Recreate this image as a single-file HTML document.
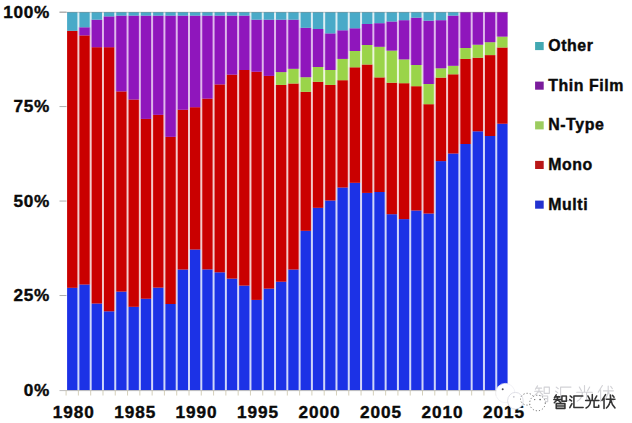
<!DOCTYPE html>
<html><head><meta charset="utf-8"><title>chart</title>
<style>
html,body{margin:0;padding:0;background:#fff;}
body{width:632px;height:423px;overflow:hidden;position:relative;font-family:"Liberation Sans",sans-serif;}
svg{position:absolute;left:0;top:0;display:block}
.ax{font-family:"Liberation Sans",sans-serif;font-weight:700;font-size:17.2px;letter-spacing:0.7px;fill:#0a0a0a;stroke:#0a0a0a;stroke-width:0.4px}
.lg{font-family:"Liberation Sans",sans-serif;font-weight:700;font-size:15.9px;letter-spacing:0.58px;fill:#0a0a0a;stroke:#0a0a0a;stroke-width:0.4px}
</style></head><body>
<svg width="632" height="423" viewBox="0 0 632 423">
<rect width="632" height="423" fill="#ffffff"/>
<defs><filter id="bl" x="-2%" y="-2%" width="104%" height="104%"><feGaussianBlur stdDeviation="0.45"/></filter><filter id="bl2" x="-20%" y="-20%" width="140%" height="140%"><feGaussianBlur stdDeviation="0.35"/></filter></defs>
<g id="bars" filter="url(#bl)">
<rect x="67.10" y="287.80" width="11.29" height="102.50" fill="#1c33e6" opacity="0.20"/><rect x="67.10" y="30.80" width="11.29" height="257.00" fill="#ca0404" opacity="0.22"/><rect x="67.10" y="12.10" width="11.29" height="18.70" fill="#4aaac8" opacity="0.20"/><rect x="78.39" y="284.50" width="12.29" height="105.80" fill="#1c33e6" opacity="0.20"/><rect x="78.39" y="35.40" width="12.29" height="249.10" fill="#ca0404" opacity="0.22"/><rect x="78.39" y="27.30" width="12.29" height="8.10" fill="#8f14bc" opacity="0.30"/><rect x="78.39" y="12.10" width="12.29" height="15.20" fill="#4aaac8" opacity="0.20"/><rect x="90.68" y="303.50" width="12.29" height="86.80" fill="#1c33e6" opacity="0.20"/><rect x="90.68" y="47.20" width="12.29" height="256.30" fill="#ca0404" opacity="0.22"/><rect x="90.68" y="19.70" width="12.29" height="27.50" fill="#8f14bc" opacity="0.30"/><rect x="90.68" y="12.10" width="12.29" height="7.60" fill="#4aaac8" opacity="0.20"/><rect x="102.97" y="311.30" width="12.29" height="79.00" fill="#1c33e6" opacity="0.20"/><rect x="102.97" y="47.20" width="12.29" height="264.10" fill="#ca0404" opacity="0.22"/><rect x="102.97" y="16.40" width="12.29" height="30.80" fill="#8f14bc" opacity="0.30"/><rect x="102.97" y="12.10" width="12.29" height="4.30" fill="#4aaac8" opacity="0.20"/><rect x="115.26" y="291.60" width="12.29" height="98.70" fill="#1c33e6" opacity="0.20"/><rect x="115.26" y="91.40" width="12.29" height="200.20" fill="#ca0404" opacity="0.22"/><rect x="115.26" y="15.60" width="12.29" height="75.80" fill="#8f14bc" opacity="0.30"/><rect x="115.26" y="12.10" width="12.29" height="3.50" fill="#4aaac8" opacity="0.20"/><rect x="127.55" y="306.80" width="12.29" height="83.50" fill="#1c33e6" opacity="0.20"/><rect x="127.55" y="99.50" width="12.29" height="207.30" fill="#ca0404" opacity="0.22"/><rect x="127.55" y="15.60" width="12.29" height="83.90" fill="#8f14bc" opacity="0.30"/><rect x="127.55" y="12.10" width="12.29" height="3.50" fill="#4aaac8" opacity="0.20"/><rect x="139.84" y="298.70" width="12.29" height="91.60" fill="#1c33e6" opacity="0.20"/><rect x="139.84" y="118.90" width="12.29" height="179.80" fill="#ca0404" opacity="0.22"/><rect x="139.84" y="15.60" width="12.29" height="103.30" fill="#8f14bc" opacity="0.30"/><rect x="139.84" y="12.10" width="12.29" height="3.50" fill="#4aaac8" opacity="0.20"/><rect x="152.13" y="287.60" width="12.29" height="102.70" fill="#1c33e6" opacity="0.20"/><rect x="152.13" y="114.80" width="12.29" height="172.80" fill="#ca0404" opacity="0.22"/><rect x="152.13" y="15.60" width="12.29" height="99.20" fill="#8f14bc" opacity="0.30"/><rect x="152.13" y="12.10" width="12.29" height="3.50" fill="#4aaac8" opacity="0.20"/><rect x="164.42" y="304.00" width="12.29" height="86.30" fill="#1c33e6" opacity="0.20"/><rect x="164.42" y="136.80" width="12.29" height="167.20" fill="#ca0404" opacity="0.22"/><rect x="164.42" y="15.60" width="12.29" height="121.20" fill="#8f14bc" opacity="0.30"/><rect x="164.42" y="12.10" width="12.29" height="3.50" fill="#4aaac8" opacity="0.20"/><rect x="176.71" y="269.50" width="12.29" height="120.80" fill="#1c33e6" opacity="0.20"/><rect x="176.71" y="109.70" width="12.29" height="159.80" fill="#ca0404" opacity="0.22"/><rect x="176.71" y="15.60" width="12.29" height="94.10" fill="#8f14bc" opacity="0.30"/><rect x="176.71" y="12.10" width="12.29" height="3.50" fill="#4aaac8" opacity="0.20"/><rect x="189.00" y="249.50" width="12.29" height="140.80" fill="#1c33e6" opacity="0.20"/><rect x="189.00" y="107.20" width="12.29" height="142.30" fill="#ca0404" opacity="0.22"/><rect x="189.00" y="15.60" width="12.29" height="91.60" fill="#8f14bc" opacity="0.30"/><rect x="189.00" y="12.10" width="12.29" height="3.50" fill="#4aaac8" opacity="0.20"/><rect x="201.29" y="269.40" width="12.29" height="120.90" fill="#1c33e6" opacity="0.20"/><rect x="201.29" y="98.60" width="12.29" height="170.80" fill="#ca0404" opacity="0.22"/><rect x="201.29" y="15.60" width="12.29" height="83.00" fill="#8f14bc" opacity="0.30"/><rect x="201.29" y="12.10" width="12.29" height="3.50" fill="#4aaac8" opacity="0.20"/><rect x="213.58" y="272.30" width="12.29" height="118.00" fill="#1c33e6" opacity="0.20"/><rect x="213.58" y="84.40" width="12.29" height="187.90" fill="#ca0404" opacity="0.22"/><rect x="213.58" y="15.60" width="12.29" height="68.80" fill="#8f14bc" opacity="0.30"/><rect x="213.58" y="12.10" width="12.29" height="3.50" fill="#4aaac8" opacity="0.20"/><rect x="225.87" y="278.60" width="12.29" height="111.70" fill="#1c33e6" opacity="0.20"/><rect x="225.87" y="74.60" width="12.29" height="204.00" fill="#ca0404" opacity="0.22"/><rect x="225.87" y="15.60" width="12.29" height="59.00" fill="#8f14bc" opacity="0.30"/><rect x="225.87" y="12.10" width="12.29" height="3.50" fill="#4aaac8" opacity="0.20"/><rect x="238.16" y="285.60" width="12.29" height="104.70" fill="#1c33e6" opacity="0.20"/><rect x="238.16" y="70.00" width="12.29" height="215.60" fill="#ca0404" opacity="0.22"/><rect x="238.16" y="15.60" width="12.29" height="54.40" fill="#8f14bc" opacity="0.30"/><rect x="238.16" y="12.10" width="12.29" height="3.50" fill="#4aaac8" opacity="0.20"/><rect x="250.45" y="299.90" width="12.29" height="90.40" fill="#1c33e6" opacity="0.20"/><rect x="250.45" y="71.70" width="12.29" height="228.20" fill="#ca0404" opacity="0.22"/><rect x="250.45" y="19.70" width="12.29" height="52.00" fill="#8f14bc" opacity="0.30"/><rect x="250.45" y="12.10" width="12.29" height="7.60" fill="#4aaac8" opacity="0.20"/><rect x="262.74" y="288.60" width="12.29" height="101.70" fill="#1c33e6" opacity="0.20"/><rect x="262.74" y="75.90" width="12.29" height="212.70" fill="#ca0404" opacity="0.22"/><rect x="262.74" y="19.70" width="12.29" height="56.20" fill="#8f14bc" opacity="0.30"/><rect x="262.74" y="12.10" width="12.29" height="7.60" fill="#4aaac8" opacity="0.20"/><rect x="275.03" y="281.70" width="12.29" height="108.60" fill="#1c33e6" opacity="0.20"/><rect x="275.03" y="84.90" width="12.29" height="196.80" fill="#ca0404" opacity="0.22"/><rect x="275.03" y="72.10" width="12.29" height="12.80" fill="#9ad448" opacity="0.20"/><rect x="275.03" y="19.70" width="12.29" height="52.40" fill="#8f14bc" opacity="0.30"/><rect x="275.03" y="12.10" width="12.29" height="7.60" fill="#4aaac8" opacity="0.20"/><rect x="287.32" y="269.50" width="12.29" height="120.80" fill="#1c33e6" opacity="0.20"/><rect x="287.32" y="83.50" width="12.29" height="186.00" fill="#ca0404" opacity="0.22"/><rect x="287.32" y="68.80" width="12.29" height="14.70" fill="#9ad448" opacity="0.20"/><rect x="287.32" y="19.70" width="12.29" height="49.10" fill="#8f14bc" opacity="0.30"/><rect x="287.32" y="12.10" width="12.29" height="7.60" fill="#4aaac8" opacity="0.20"/><rect x="299.61" y="230.80" width="12.29" height="159.50" fill="#1c33e6" opacity="0.20"/><rect x="299.61" y="91.80" width="12.29" height="139.00" fill="#ca0404" opacity="0.22"/><rect x="299.61" y="77.20" width="12.29" height="14.60" fill="#9ad448" opacity="0.20"/><rect x="299.61" y="27.80" width="12.29" height="49.40" fill="#8f14bc" opacity="0.30"/><rect x="299.61" y="12.10" width="12.29" height="15.70" fill="#4aaac8" opacity="0.20"/><rect x="311.90" y="207.80" width="12.29" height="182.50" fill="#1c33e6" opacity="0.20"/><rect x="311.90" y="81.80" width="12.29" height="126.00" fill="#ca0404" opacity="0.22"/><rect x="311.90" y="67.00" width="12.29" height="14.80" fill="#9ad448" opacity="0.20"/><rect x="311.90" y="29.00" width="12.29" height="38.00" fill="#8f14bc" opacity="0.30"/><rect x="311.90" y="12.10" width="12.29" height="16.90" fill="#4aaac8" opacity="0.20"/><rect x="324.19" y="200.50" width="12.29" height="189.80" fill="#1c33e6" opacity="0.20"/><rect x="324.19" y="84.90" width="12.29" height="115.60" fill="#ca0404" opacity="0.22"/><rect x="324.19" y="70.00" width="12.29" height="14.90" fill="#9ad448" opacity="0.20"/><rect x="324.19" y="33.40" width="12.29" height="36.60" fill="#8f14bc" opacity="0.30"/><rect x="324.19" y="12.10" width="12.29" height="21.30" fill="#4aaac8" opacity="0.20"/><rect x="336.48" y="187.50" width="12.29" height="202.80" fill="#1c33e6" opacity="0.20"/><rect x="336.48" y="80.20" width="12.29" height="107.30" fill="#ca0404" opacity="0.22"/><rect x="336.48" y="58.90" width="12.29" height="21.30" fill="#9ad448" opacity="0.20"/><rect x="336.48" y="30.30" width="12.29" height="28.60" fill="#8f14bc" opacity="0.30"/><rect x="336.48" y="12.10" width="12.29" height="18.20" fill="#4aaac8" opacity="0.20"/><rect x="348.77" y="182.80" width="12.29" height="207.50" fill="#1c33e6" opacity="0.20"/><rect x="348.77" y="67.30" width="12.29" height="115.50" fill="#ca0404" opacity="0.22"/><rect x="348.77" y="51.00" width="12.29" height="16.30" fill="#9ad448" opacity="0.20"/><rect x="348.77" y="28.30" width="12.29" height="22.70" fill="#8f14bc" opacity="0.30"/><rect x="348.77" y="12.10" width="12.29" height="16.20" fill="#4aaac8" opacity="0.20"/><rect x="361.06" y="192.90" width="12.29" height="197.40" fill="#1c33e6" opacity="0.20"/><rect x="361.06" y="64.50" width="12.29" height="128.40" fill="#ca0404" opacity="0.22"/><rect x="361.06" y="45.00" width="12.29" height="19.50" fill="#9ad448" opacity="0.20"/><rect x="361.06" y="24.00" width="12.29" height="21.00" fill="#8f14bc" opacity="0.30"/><rect x="361.06" y="12.10" width="12.29" height="11.90" fill="#4aaac8" opacity="0.20"/><rect x="373.35" y="192.00" width="12.29" height="198.30" fill="#1c33e6" opacity="0.20"/><rect x="373.35" y="77.40" width="12.29" height="114.60" fill="#ca0404" opacity="0.22"/><rect x="373.35" y="46.80" width="12.29" height="30.60" fill="#9ad448" opacity="0.20"/><rect x="373.35" y="23.20" width="12.29" height="23.60" fill="#8f14bc" opacity="0.30"/><rect x="373.35" y="12.10" width="12.29" height="11.10" fill="#4aaac8" opacity="0.20"/><rect x="385.64" y="214.20" width="12.29" height="176.10" fill="#1c33e6" opacity="0.20"/><rect x="385.64" y="82.70" width="12.29" height="131.50" fill="#ca0404" opacity="0.22"/><rect x="385.64" y="50.60" width="12.29" height="32.10" fill="#9ad448" opacity="0.20"/><rect x="385.64" y="21.50" width="12.29" height="29.10" fill="#8f14bc" opacity="0.30"/><rect x="385.64" y="12.10" width="12.29" height="9.40" fill="#4aaac8" opacity="0.20"/><rect x="397.93" y="219.10" width="12.29" height="171.20" fill="#1c33e6" opacity="0.20"/><rect x="397.93" y="83.20" width="12.29" height="135.90" fill="#ca0404" opacity="0.22"/><rect x="397.93" y="59.40" width="12.29" height="23.80" fill="#9ad448" opacity="0.20"/><rect x="397.93" y="20.20" width="12.29" height="39.20" fill="#8f14bc" opacity="0.30"/><rect x="397.93" y="12.10" width="12.29" height="8.10" fill="#4aaac8" opacity="0.20"/><rect x="410.22" y="210.50" width="12.29" height="179.80" fill="#1c33e6" opacity="0.20"/><rect x="410.22" y="86.20" width="12.29" height="124.30" fill="#ca0404" opacity="0.22"/><rect x="410.22" y="65.00" width="12.29" height="21.20" fill="#9ad448" opacity="0.20"/><rect x="410.22" y="17.70" width="12.29" height="47.30" fill="#8f14bc" opacity="0.30"/><rect x="410.22" y="12.10" width="12.29" height="5.60" fill="#4aaac8" opacity="0.20"/><rect x="422.51" y="213.50" width="12.29" height="176.80" fill="#1c33e6" opacity="0.20"/><rect x="422.51" y="104.20" width="12.29" height="109.30" fill="#ca0404" opacity="0.22"/><rect x="422.51" y="84.00" width="12.29" height="20.20" fill="#9ad448" opacity="0.20"/><rect x="422.51" y="20.70" width="12.29" height="63.30" fill="#8f14bc" opacity="0.30"/><rect x="422.51" y="12.10" width="12.29" height="8.60" fill="#4aaac8" opacity="0.20"/><rect x="434.80" y="161.10" width="12.29" height="229.20" fill="#1c33e6" opacity="0.20"/><rect x="434.80" y="77.60" width="12.29" height="83.50" fill="#ca0404" opacity="0.22"/><rect x="434.80" y="68.30" width="12.29" height="9.30" fill="#9ad448" opacity="0.20"/><rect x="434.80" y="20.20" width="12.29" height="48.10" fill="#8f14bc" opacity="0.30"/><rect x="434.80" y="12.10" width="12.29" height="8.10" fill="#4aaac8" opacity="0.20"/><rect x="447.09" y="153.50" width="12.29" height="236.80" fill="#1c33e6" opacity="0.20"/><rect x="447.09" y="74.30" width="12.29" height="79.20" fill="#ca0404" opacity="0.22"/><rect x="447.09" y="65.80" width="12.29" height="8.50" fill="#9ad448" opacity="0.20"/><rect x="447.09" y="15.60" width="12.29" height="50.20" fill="#8f14bc" opacity="0.30"/><rect x="447.09" y="12.10" width="12.29" height="3.50" fill="#4aaac8" opacity="0.20"/><rect x="459.38" y="144.00" width="12.29" height="246.30" fill="#1c33e6" opacity="0.20"/><rect x="459.38" y="58.90" width="12.29" height="85.10" fill="#ca0404" opacity="0.22"/><rect x="459.38" y="48.00" width="12.29" height="10.90" fill="#9ad448" opacity="0.20"/><rect x="459.38" y="12.10" width="12.29" height="35.90" fill="#8f14bc" opacity="0.30"/><rect x="471.67" y="131.30" width="12.29" height="259.00" fill="#1c33e6" opacity="0.20"/><rect x="471.67" y="57.70" width="12.29" height="73.60" fill="#ca0404" opacity="0.22"/><rect x="471.67" y="44.70" width="12.29" height="13.00" fill="#9ad448" opacity="0.20"/><rect x="471.67" y="12.10" width="12.29" height="32.60" fill="#8f14bc" opacity="0.30"/><rect x="483.96" y="136.00" width="12.29" height="254.30" fill="#1c33e6" opacity="0.20"/><rect x="483.96" y="55.10" width="12.29" height="80.90" fill="#ca0404" opacity="0.22"/><rect x="483.96" y="42.20" width="12.29" height="12.90" fill="#9ad448" opacity="0.20"/><rect x="483.96" y="12.10" width="12.29" height="30.10" fill="#8f14bc" opacity="0.30"/><rect x="496.25" y="123.70" width="11.29" height="266.60" fill="#1c33e6" opacity="0.20"/><rect x="496.25" y="47.50" width="11.29" height="76.20" fill="#ca0404" opacity="0.22"/><rect x="496.25" y="36.60" width="11.29" height="10.90" fill="#9ad448" opacity="0.20"/><rect x="496.25" y="12.10" width="11.29" height="24.50" fill="#8f14bc" opacity="0.30"/><rect x="67.10" y="287.80" width="10.29" height="102.50" fill="#1c33e6"/><rect x="67.10" y="30.80" width="10.29" height="257.00" fill="#ca0404"/><rect x="67.10" y="12.10" width="10.29" height="18.70" fill="#4aaac8"/><rect x="79.39" y="284.50" width="10.29" height="105.80" fill="#1c33e6"/><rect x="79.39" y="35.40" width="10.29" height="249.10" fill="#ca0404"/><rect x="79.39" y="27.30" width="10.29" height="8.10" fill="#8f14bc"/><rect x="79.39" y="12.10" width="10.29" height="15.20" fill="#4aaac8"/><rect x="91.68" y="303.50" width="10.29" height="86.80" fill="#1c33e6"/><rect x="91.68" y="47.20" width="10.29" height="256.30" fill="#ca0404"/><rect x="91.68" y="19.70" width="10.29" height="27.50" fill="#8f14bc"/><rect x="91.68" y="12.10" width="10.29" height="7.60" fill="#4aaac8"/><rect x="103.97" y="311.30" width="10.29" height="79.00" fill="#1c33e6"/><rect x="103.97" y="47.20" width="10.29" height="264.10" fill="#ca0404"/><rect x="103.97" y="16.40" width="10.29" height="30.80" fill="#8f14bc"/><rect x="103.97" y="12.10" width="10.29" height="4.30" fill="#4aaac8"/><rect x="116.26" y="291.60" width="10.29" height="98.70" fill="#1c33e6"/><rect x="116.26" y="91.40" width="10.29" height="200.20" fill="#ca0404"/><rect x="116.26" y="15.60" width="10.29" height="75.80" fill="#8f14bc"/><rect x="116.26" y="12.10" width="10.29" height="3.50" fill="#4aaac8"/><rect x="128.55" y="306.80" width="10.29" height="83.50" fill="#1c33e6"/><rect x="128.55" y="99.50" width="10.29" height="207.30" fill="#ca0404"/><rect x="128.55" y="15.60" width="10.29" height="83.90" fill="#8f14bc"/><rect x="128.55" y="12.10" width="10.29" height="3.50" fill="#4aaac8"/><rect x="140.84" y="298.70" width="10.29" height="91.60" fill="#1c33e6"/><rect x="140.84" y="118.90" width="10.29" height="179.80" fill="#ca0404"/><rect x="140.84" y="15.60" width="10.29" height="103.30" fill="#8f14bc"/><rect x="140.84" y="12.10" width="10.29" height="3.50" fill="#4aaac8"/><rect x="153.13" y="287.60" width="10.29" height="102.70" fill="#1c33e6"/><rect x="153.13" y="114.80" width="10.29" height="172.80" fill="#ca0404"/><rect x="153.13" y="15.60" width="10.29" height="99.20" fill="#8f14bc"/><rect x="153.13" y="12.10" width="10.29" height="3.50" fill="#4aaac8"/><rect x="165.42" y="304.00" width="10.29" height="86.30" fill="#1c33e6"/><rect x="165.42" y="136.80" width="10.29" height="167.20" fill="#ca0404"/><rect x="165.42" y="15.60" width="10.29" height="121.20" fill="#8f14bc"/><rect x="165.42" y="12.10" width="10.29" height="3.50" fill="#4aaac8"/><rect x="177.71" y="269.50" width="10.29" height="120.80" fill="#1c33e6"/><rect x="177.71" y="109.70" width="10.29" height="159.80" fill="#ca0404"/><rect x="177.71" y="15.60" width="10.29" height="94.10" fill="#8f14bc"/><rect x="177.71" y="12.10" width="10.29" height="3.50" fill="#4aaac8"/><rect x="190.00" y="249.50" width="10.29" height="140.80" fill="#1c33e6"/><rect x="190.00" y="107.20" width="10.29" height="142.30" fill="#ca0404"/><rect x="190.00" y="15.60" width="10.29" height="91.60" fill="#8f14bc"/><rect x="190.00" y="12.10" width="10.29" height="3.50" fill="#4aaac8"/><rect x="202.29" y="269.40" width="10.29" height="120.90" fill="#1c33e6"/><rect x="202.29" y="98.60" width="10.29" height="170.80" fill="#ca0404"/><rect x="202.29" y="15.60" width="10.29" height="83.00" fill="#8f14bc"/><rect x="202.29" y="12.10" width="10.29" height="3.50" fill="#4aaac8"/><rect x="214.58" y="272.30" width="10.29" height="118.00" fill="#1c33e6"/><rect x="214.58" y="84.40" width="10.29" height="187.90" fill="#ca0404"/><rect x="214.58" y="15.60" width="10.29" height="68.80" fill="#8f14bc"/><rect x="214.58" y="12.10" width="10.29" height="3.50" fill="#4aaac8"/><rect x="226.87" y="278.60" width="10.29" height="111.70" fill="#1c33e6"/><rect x="226.87" y="74.60" width="10.29" height="204.00" fill="#ca0404"/><rect x="226.87" y="15.60" width="10.29" height="59.00" fill="#8f14bc"/><rect x="226.87" y="12.10" width="10.29" height="3.50" fill="#4aaac8"/><rect x="239.16" y="285.60" width="10.29" height="104.70" fill="#1c33e6"/><rect x="239.16" y="70.00" width="10.29" height="215.60" fill="#ca0404"/><rect x="239.16" y="15.60" width="10.29" height="54.40" fill="#8f14bc"/><rect x="239.16" y="12.10" width="10.29" height="3.50" fill="#4aaac8"/><rect x="251.45" y="299.90" width="10.29" height="90.40" fill="#1c33e6"/><rect x="251.45" y="71.70" width="10.29" height="228.20" fill="#ca0404"/><rect x="251.45" y="19.70" width="10.29" height="52.00" fill="#8f14bc"/><rect x="251.45" y="12.10" width="10.29" height="7.60" fill="#4aaac8"/><rect x="263.74" y="288.60" width="10.29" height="101.70" fill="#1c33e6"/><rect x="263.74" y="75.90" width="10.29" height="212.70" fill="#ca0404"/><rect x="263.74" y="19.70" width="10.29" height="56.20" fill="#8f14bc"/><rect x="263.74" y="12.10" width="10.29" height="7.60" fill="#4aaac8"/><rect x="276.03" y="281.70" width="10.29" height="108.60" fill="#1c33e6"/><rect x="276.03" y="84.90" width="10.29" height="196.80" fill="#ca0404"/><rect x="276.03" y="72.10" width="10.29" height="12.80" fill="#9ad448"/><rect x="276.03" y="19.70" width="10.29" height="52.40" fill="#8f14bc"/><rect x="276.03" y="12.10" width="10.29" height="7.60" fill="#4aaac8"/><rect x="288.32" y="269.50" width="10.29" height="120.80" fill="#1c33e6"/><rect x="288.32" y="83.50" width="10.29" height="186.00" fill="#ca0404"/><rect x="288.32" y="68.80" width="10.29" height="14.70" fill="#9ad448"/><rect x="288.32" y="19.70" width="10.29" height="49.10" fill="#8f14bc"/><rect x="288.32" y="12.10" width="10.29" height="7.60" fill="#4aaac8"/><rect x="300.61" y="230.80" width="10.29" height="159.50" fill="#1c33e6"/><rect x="300.61" y="91.80" width="10.29" height="139.00" fill="#ca0404"/><rect x="300.61" y="77.20" width="10.29" height="14.60" fill="#9ad448"/><rect x="300.61" y="27.80" width="10.29" height="49.40" fill="#8f14bc"/><rect x="300.61" y="12.10" width="10.29" height="15.70" fill="#4aaac8"/><rect x="312.90" y="207.80" width="10.29" height="182.50" fill="#1c33e6"/><rect x="312.90" y="81.80" width="10.29" height="126.00" fill="#ca0404"/><rect x="312.90" y="67.00" width="10.29" height="14.80" fill="#9ad448"/><rect x="312.90" y="29.00" width="10.29" height="38.00" fill="#8f14bc"/><rect x="312.90" y="12.10" width="10.29" height="16.90" fill="#4aaac8"/><rect x="325.19" y="200.50" width="10.29" height="189.80" fill="#1c33e6"/><rect x="325.19" y="84.90" width="10.29" height="115.60" fill="#ca0404"/><rect x="325.19" y="70.00" width="10.29" height="14.90" fill="#9ad448"/><rect x="325.19" y="33.40" width="10.29" height="36.60" fill="#8f14bc"/><rect x="325.19" y="12.10" width="10.29" height="21.30" fill="#4aaac8"/><rect x="337.48" y="187.50" width="10.29" height="202.80" fill="#1c33e6"/><rect x="337.48" y="80.20" width="10.29" height="107.30" fill="#ca0404"/><rect x="337.48" y="58.90" width="10.29" height="21.30" fill="#9ad448"/><rect x="337.48" y="30.30" width="10.29" height="28.60" fill="#8f14bc"/><rect x="337.48" y="12.10" width="10.29" height="18.20" fill="#4aaac8"/><rect x="349.77" y="182.80" width="10.29" height="207.50" fill="#1c33e6"/><rect x="349.77" y="67.30" width="10.29" height="115.50" fill="#ca0404"/><rect x="349.77" y="51.00" width="10.29" height="16.30" fill="#9ad448"/><rect x="349.77" y="28.30" width="10.29" height="22.70" fill="#8f14bc"/><rect x="349.77" y="12.10" width="10.29" height="16.20" fill="#4aaac8"/><rect x="362.06" y="192.90" width="10.29" height="197.40" fill="#1c33e6"/><rect x="362.06" y="64.50" width="10.29" height="128.40" fill="#ca0404"/><rect x="362.06" y="45.00" width="10.29" height="19.50" fill="#9ad448"/><rect x="362.06" y="24.00" width="10.29" height="21.00" fill="#8f14bc"/><rect x="362.06" y="12.10" width="10.29" height="11.90" fill="#4aaac8"/><rect x="374.35" y="192.00" width="10.29" height="198.30" fill="#1c33e6"/><rect x="374.35" y="77.40" width="10.29" height="114.60" fill="#ca0404"/><rect x="374.35" y="46.80" width="10.29" height="30.60" fill="#9ad448"/><rect x="374.35" y="23.20" width="10.29" height="23.60" fill="#8f14bc"/><rect x="374.35" y="12.10" width="10.29" height="11.10" fill="#4aaac8"/><rect x="386.64" y="214.20" width="10.29" height="176.10" fill="#1c33e6"/><rect x="386.64" y="82.70" width="10.29" height="131.50" fill="#ca0404"/><rect x="386.64" y="50.60" width="10.29" height="32.10" fill="#9ad448"/><rect x="386.64" y="21.50" width="10.29" height="29.10" fill="#8f14bc"/><rect x="386.64" y="12.10" width="10.29" height="9.40" fill="#4aaac8"/><rect x="398.93" y="219.10" width="10.29" height="171.20" fill="#1c33e6"/><rect x="398.93" y="83.20" width="10.29" height="135.90" fill="#ca0404"/><rect x="398.93" y="59.40" width="10.29" height="23.80" fill="#9ad448"/><rect x="398.93" y="20.20" width="10.29" height="39.20" fill="#8f14bc"/><rect x="398.93" y="12.10" width="10.29" height="8.10" fill="#4aaac8"/><rect x="411.22" y="210.50" width="10.29" height="179.80" fill="#1c33e6"/><rect x="411.22" y="86.20" width="10.29" height="124.30" fill="#ca0404"/><rect x="411.22" y="65.00" width="10.29" height="21.20" fill="#9ad448"/><rect x="411.22" y="17.70" width="10.29" height="47.30" fill="#8f14bc"/><rect x="411.22" y="12.10" width="10.29" height="5.60" fill="#4aaac8"/><rect x="423.51" y="213.50" width="10.29" height="176.80" fill="#1c33e6"/><rect x="423.51" y="104.20" width="10.29" height="109.30" fill="#ca0404"/><rect x="423.51" y="84.00" width="10.29" height="20.20" fill="#9ad448"/><rect x="423.51" y="20.70" width="10.29" height="63.30" fill="#8f14bc"/><rect x="423.51" y="12.10" width="10.29" height="8.60" fill="#4aaac8"/><rect x="435.80" y="161.10" width="10.29" height="229.20" fill="#1c33e6"/><rect x="435.80" y="77.60" width="10.29" height="83.50" fill="#ca0404"/><rect x="435.80" y="68.30" width="10.29" height="9.30" fill="#9ad448"/><rect x="435.80" y="20.20" width="10.29" height="48.10" fill="#8f14bc"/><rect x="435.80" y="12.10" width="10.29" height="8.10" fill="#4aaac8"/><rect x="448.09" y="153.50" width="10.29" height="236.80" fill="#1c33e6"/><rect x="448.09" y="74.30" width="10.29" height="79.20" fill="#ca0404"/><rect x="448.09" y="65.80" width="10.29" height="8.50" fill="#9ad448"/><rect x="448.09" y="15.60" width="10.29" height="50.20" fill="#8f14bc"/><rect x="448.09" y="12.10" width="10.29" height="3.50" fill="#4aaac8"/><rect x="460.38" y="144.00" width="10.29" height="246.30" fill="#1c33e6"/><rect x="460.38" y="58.90" width="10.29" height="85.10" fill="#ca0404"/><rect x="460.38" y="48.00" width="10.29" height="10.90" fill="#9ad448"/><rect x="460.38" y="12.10" width="10.29" height="35.90" fill="#8f14bc"/><rect x="472.67" y="131.30" width="10.29" height="259.00" fill="#1c33e6"/><rect x="472.67" y="57.70" width="10.29" height="73.60" fill="#ca0404"/><rect x="472.67" y="44.70" width="10.29" height="13.00" fill="#9ad448"/><rect x="472.67" y="12.10" width="10.29" height="32.60" fill="#8f14bc"/><rect x="484.96" y="136.00" width="10.29" height="254.30" fill="#1c33e6"/><rect x="484.96" y="55.10" width="10.29" height="80.90" fill="#ca0404"/><rect x="484.96" y="42.20" width="10.29" height="12.90" fill="#9ad448"/><rect x="484.96" y="12.10" width="10.29" height="30.10" fill="#8f14bc"/><rect x="497.25" y="123.70" width="10.29" height="266.60" fill="#1c33e6"/><rect x="497.25" y="47.50" width="10.29" height="76.20" fill="#ca0404"/><rect x="497.25" y="36.60" width="10.29" height="10.90" fill="#9ad448"/><rect x="497.25" y="12.10" width="10.29" height="24.50" fill="#8f14bc"/>
</g>
<g id="axis">
<line x1="59.5" y1="390.6" x2="508.5" y2="390.6" stroke="#bdbdbd" stroke-width="1"/><line x1="66.10" y1="390.3" x2="66.10" y2="395.5" stroke="#cfcab2" stroke-width="0.9"/><line x1="78.39" y1="390.3" x2="78.39" y2="395.5" stroke="#cfcab2" stroke-width="0.9"/><line x1="90.68" y1="390.3" x2="90.68" y2="395.5" stroke="#cfcab2" stroke-width="0.9"/><line x1="102.97" y1="390.3" x2="102.97" y2="395.5" stroke="#cfcab2" stroke-width="0.9"/><line x1="115.26" y1="390.3" x2="115.26" y2="395.5" stroke="#cfcab2" stroke-width="0.9"/><line x1="127.55" y1="390.3" x2="127.55" y2="395.5" stroke="#cfcab2" stroke-width="0.9"/><line x1="139.84" y1="390.3" x2="139.84" y2="395.5" stroke="#cfcab2" stroke-width="0.9"/><line x1="152.13" y1="390.3" x2="152.13" y2="395.5" stroke="#cfcab2" stroke-width="0.9"/><line x1="164.42" y1="390.3" x2="164.42" y2="395.5" stroke="#cfcab2" stroke-width="0.9"/><line x1="176.71" y1="390.3" x2="176.71" y2="395.5" stroke="#cfcab2" stroke-width="0.9"/><line x1="189.00" y1="390.3" x2="189.00" y2="395.5" stroke="#cfcab2" stroke-width="0.9"/><line x1="201.29" y1="390.3" x2="201.29" y2="395.5" stroke="#cfcab2" stroke-width="0.9"/><line x1="213.58" y1="390.3" x2="213.58" y2="395.5" stroke="#cfcab2" stroke-width="0.9"/><line x1="225.87" y1="390.3" x2="225.87" y2="395.5" stroke="#cfcab2" stroke-width="0.9"/><line x1="238.16" y1="390.3" x2="238.16" y2="395.5" stroke="#cfcab2" stroke-width="0.9"/><line x1="250.45" y1="390.3" x2="250.45" y2="395.5" stroke="#cfcab2" stroke-width="0.9"/><line x1="262.74" y1="390.3" x2="262.74" y2="395.5" stroke="#cfcab2" stroke-width="0.9"/><line x1="275.03" y1="390.3" x2="275.03" y2="395.5" stroke="#cfcab2" stroke-width="0.9"/><line x1="287.32" y1="390.3" x2="287.32" y2="395.5" stroke="#cfcab2" stroke-width="0.9"/><line x1="299.61" y1="390.3" x2="299.61" y2="395.5" stroke="#cfcab2" stroke-width="0.9"/><line x1="311.90" y1="390.3" x2="311.90" y2="395.5" stroke="#cfcab2" stroke-width="0.9"/><line x1="324.19" y1="390.3" x2="324.19" y2="395.5" stroke="#cfcab2" stroke-width="0.9"/><line x1="336.48" y1="390.3" x2="336.48" y2="395.5" stroke="#cfcab2" stroke-width="0.9"/><line x1="348.77" y1="390.3" x2="348.77" y2="395.5" stroke="#cfcab2" stroke-width="0.9"/><line x1="361.06" y1="390.3" x2="361.06" y2="395.5" stroke="#cfcab2" stroke-width="0.9"/><line x1="373.35" y1="390.3" x2="373.35" y2="395.5" stroke="#cfcab2" stroke-width="0.9"/><line x1="385.64" y1="390.3" x2="385.64" y2="395.5" stroke="#cfcab2" stroke-width="0.9"/><line x1="397.93" y1="390.3" x2="397.93" y2="395.5" stroke="#cfcab2" stroke-width="0.9"/><line x1="410.22" y1="390.3" x2="410.22" y2="395.5" stroke="#cfcab2" stroke-width="0.9"/><line x1="422.51" y1="390.3" x2="422.51" y2="395.5" stroke="#cfcab2" stroke-width="0.9"/><line x1="434.80" y1="390.3" x2="434.80" y2="395.5" stroke="#cfcab2" stroke-width="0.9"/><line x1="447.09" y1="390.3" x2="447.09" y2="395.5" stroke="#cfcab2" stroke-width="0.9"/><line x1="459.38" y1="390.3" x2="459.38" y2="395.5" stroke="#cfcab2" stroke-width="0.9"/><line x1="471.67" y1="390.3" x2="471.67" y2="395.5" stroke="#cfcab2" stroke-width="0.9"/><line x1="483.96" y1="390.3" x2="483.96" y2="395.5" stroke="#cfcab2" stroke-width="0.9"/><line x1="496.25" y1="390.3" x2="496.25" y2="395.5" stroke="#cfcab2" stroke-width="0.9"/><line x1="508.54" y1="390.3" x2="508.54" y2="395.5" stroke="#cfcab2" stroke-width="0.9"/><line x1="59.5" y1="295.52" x2="66.5" y2="295.52" stroke="#a6a6a6" stroke-width="0.9"/><line x1="59.5" y1="201.05" x2="66.5" y2="201.05" stroke="#a6a6a6" stroke-width="0.9"/><line x1="59.5" y1="106.58" x2="66.5" y2="106.58" stroke="#a6a6a6" stroke-width="0.9"/><line x1="59.5" y1="12.10" x2="66.5" y2="12.10" stroke="#a6a6a6" stroke-width="0.9"/><line x1="59.5" y1="12.3" x2="508.3" y2="12.3" stroke="#777" stroke-width="0.8" opacity="0.55"/>
</g>
<g id="ylabels"><text x="49.9" y="396.0" text-anchor="end" class="ax">0%</text><text x="49.9" y="301.2" text-anchor="end" class="ax">25%</text><text x="49.9" y="206.8" text-anchor="end" class="ax">50%</text><text x="49.9" y="112.3" text-anchor="end" class="ax">75%</text><text x="49.9" y="17.5" text-anchor="end" class="ax">100%</text></g>
<g id="xlabels"><text x="73.7" y="418.4" text-anchor="middle" class="ax" style="letter-spacing:0.95px">1980</text><text x="135.2" y="418.4" text-anchor="middle" class="ax" style="letter-spacing:0.95px">1985</text><text x="196.6" y="418.4" text-anchor="middle" class="ax" style="letter-spacing:0.95px">1990</text><text x="258.1" y="418.4" text-anchor="middle" class="ax" style="letter-spacing:0.95px">1995</text><text x="319.5" y="418.4" text-anchor="middle" class="ax" style="letter-spacing:0.95px">2000</text><text x="381.0" y="418.4" text-anchor="middle" class="ax" style="letter-spacing:0.95px">2005</text><text x="442.4" y="418.4" text-anchor="middle" class="ax" style="letter-spacing:0.95px">2010</text><text x="503.9" y="418.4" text-anchor="middle" class="ax" style="letter-spacing:0.95px">2015</text></g>
<g id="legend"><rect x="535.1" y="42.0" width="8.6" height="8.1" fill="#42a8b2" filter="url(#bl2)"/><text x="548.2" y="50.9" class="lg">Other</text><rect x="535.1" y="81.6" width="8.6" height="8.1" fill="#7a1a9c" filter="url(#bl2)"/><text x="548.2" y="90.5" class="lg">Thin Film</text><rect x="535.1" y="121.3" width="8.6" height="8.1" fill="#9ccc5e" filter="url(#bl2)"/><text x="548.2" y="130.2" class="lg">N-Type</text><rect x="535.1" y="160.9" width="8.6" height="8.1" fill="#b81418" filter="url(#bl2)"/><text x="548.2" y="169.8" class="lg">Mono</text><rect x="535.1" y="200.6" width="8.6" height="8.1" fill="#2233d0" filter="url(#bl2)"/><text x="548.2" y="209.5" class="lg">Multi</text></g>
<g id="wm"><path transform="translate(534.20,385.00) scale(1.0375)" d="M3.2 0.8L1.2 4 M2.2 3H7.2 M0.5 6H8.3 M4.6 3V6L1 9.6 M4.8 6.2L8.2 9.4 M9.6 2H14.6V8H9.6Z M3.2 10.6H13V16H3.2Z M3.2 13.2H13" fill="none" stroke="#d2d2d6" stroke-width="1.11" stroke-linecap="round" stroke-linejoin="round" opacity="1"/><path transform="translate(555.20,385.00) scale(1.0375)" d="M1 2L3 3.6 M0.5 6L2.5 7.6 M0.6 15.2L3 10.6 M5.2 2H15.2 M5.2 2V15H15.6" fill="none" stroke="#d2d2d6" stroke-width="1.11" stroke-linecap="round" stroke-linejoin="round" opacity="1"/><path transform="translate(576.20,385.00) scale(1.0375)" d="M8 0.5V6.8 M3 2L5 5.6 M13 2L11 5.6 M0.5 7H15.5 M6 7Q6 13 1 15.6 M10 7V14.6H15.2V12.4" fill="none" stroke="#d2d2d6" stroke-width="1.11" stroke-linecap="round" stroke-linejoin="round" opacity="1"/><path transform="translate(597.20,385.00) scale(1.0375)" d="M5 0.5L1 7 M3.3 4.6V16 M6 5.6H15.6 M10.6 1V5.6Q10 12 6 15.6 M10.8 5.8Q12 12 15.6 15.4 M13 1.4L14.6 3.4" fill="none" stroke="#d2d2d6" stroke-width="1.11" stroke-linecap="round" stroke-linejoin="round" opacity="1"/><circle cx="505.3" cy="393" r="9.6" fill="#ffffff" stroke="#efeff4" stroke-width="0.8"/><circle cx="502.7" cy="389.2" r="1.0" fill="#4a4a55"/><ellipse cx="515.4" cy="400.8" rx="7.8" ry="8.4" fill="#ffffff" stroke="#dcdce4" stroke-width="0.9"/><circle cx="513.8" cy="396.8" r="0.9" fill="#c4c4cc"/><ellipse cx="527.3" cy="399.2" rx="6.8" ry="5.9" fill="none" stroke="#3a3a3a" stroke-width="0.75" stroke-dasharray="1.1 2.1"/><circle cx="537.5" cy="403" r="7.8" fill="#ffffff" stroke="#3a3a3a" stroke-width="0.75" stroke-dasharray="1.1 2.1"/><circle cx="540.1" cy="399.6" r="0.8" fill="#555"/><circle cx="534.7" cy="399.6" r="0.7" fill="#666"/><path transform="translate(553.40,394.20) scale(0.8875)" d="M3.2 0.8L1.2 4 M2.2 3H7.2 M0.5 6H8.3 M4.6 3V6L1 9.6 M4.8 6.2L8.2 9.4 M9.6 2H14.6V8H9.6Z M3.2 10.6H13V16H3.2Z M3.2 13.2H13" fill="none" stroke="#333333" stroke-width="1.75" stroke-linecap="round" stroke-linejoin="round" opacity="1"/><path transform="translate(569.30,394.20) scale(0.8875)" d="M1 2L3 3.6 M0.5 6L2.5 7.6 M0.6 15.2L3 10.6 M5.2 2H15.2 M5.2 2V15H15.6" fill="none" stroke="#333333" stroke-width="1.75" stroke-linecap="round" stroke-linejoin="round" opacity="1"/><path transform="translate(585.20,394.20) scale(0.8875)" d="M8 0.5V6.8 M3 2L5 5.6 M13 2L11 5.6 M0.5 7H15.5 M6 7Q6 13 1 15.6 M10 7V14.6H15.2V12.4" fill="none" stroke="#333333" stroke-width="1.75" stroke-linecap="round" stroke-linejoin="round" opacity="1"/><path transform="translate(601.10,394.20) scale(0.8875)" d="M5 0.5L1 7 M3.3 4.6V16 M6 5.6H15.6 M10.6 1V5.6Q10 12 6 15.6 M10.8 5.8Q12 12 15.6 15.4 M13 1.4L14.6 3.4" fill="none" stroke="#333333" stroke-width="1.75" stroke-linecap="round" stroke-linejoin="round" opacity="1"/></g>
</svg>
</body></html>
